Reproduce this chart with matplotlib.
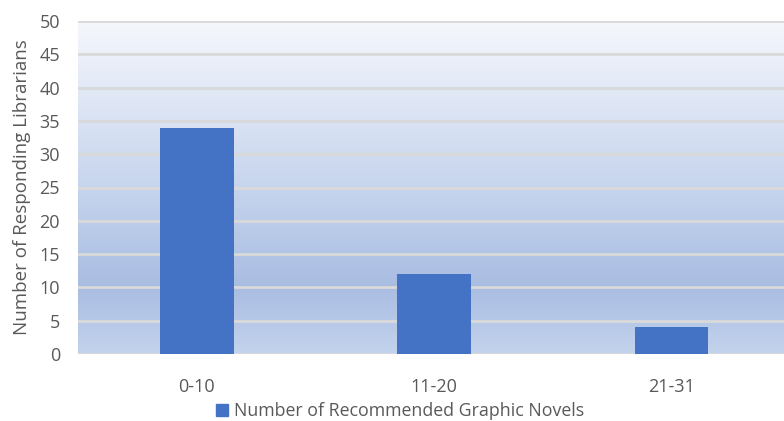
import numpy as np
import matplotlib
matplotlib.use("Agg")
import matplotlib.pyplot as plt
from matplotlib.colors import LinearSegmentedColormap
from matplotlib.patches import Patch

categories = ["0-10", "11-20", "21-31"]
librarians = [34, 12, 4]

BAR_COLOR = "#4472c4"
TEXT_COLOR = "#595959"

plt.rcParams["font.family"] = ["Open Sans", "DejaVu Sans"]

fig = plt.figure(figsize=(7.84, 4.21), dpi=100)
ax = fig.add_axes([78 / 784, 1 - 354 / 421, (784 - 78) / 784, (354 - 21) / 421])

# background gradient (light at top, darkest near the bottom, lighter at base)
grad = LinearSegmentedColormap.from_list(
    "bg", [(0.0, "#c4d3ed"), (0.2, "#a9bde2"), (0.55, "#cbd8ef"), (1.0, "#f5f7fc")])
ax.imshow(np.linspace(0, 1, 256).reshape(-1, 1), cmap=grad, aspect="auto",
          extent=[0, 1, 0, 1], transform=ax.transAxes, origin="lower", zorder=0)

x = np.arange(len(categories))
ax.bar(x, librarians, width=0.31, color=BAR_COLOR, zorder=3)

ax.set_xlim(-0.5, 2.473)
ax.set_ylim(0, 50)
ax.set_yticks(range(0, 51, 5))
ax.set_xticks(x)
ax.set_xticklabels(categories)
ax.yaxis.grid(True, color="#d9d9d9", linewidth=2, zorder=1)
ax.set_axisbelow(False)
for s in ax.spines.values():
    s.set_visible(False)
ax.tick_params(length=0, labelsize=13, colors=TEXT_COLOR)
ax.tick_params(axis="y", pad=13)
ax.tick_params(axis="x", pad=17)
ax.set_ylabel("Number of Responding Librarians", fontsize=13.5, color=TEXT_COLOR, labelpad=6)

fig.legend(handles=[Patch(color=BAR_COLOR, label="Number of Recommended Graphic Novels")],
           loc="center", bbox_to_anchor=(400 / 784, 1 - 411 / 421), frameon=False,
           fontsize=12.8, labelcolor=TEXT_COLOR, handlelength=0.7, handleheight=0.7,
           handletextpad=0.3)

fig.savefig("out.png", dpi=100)
